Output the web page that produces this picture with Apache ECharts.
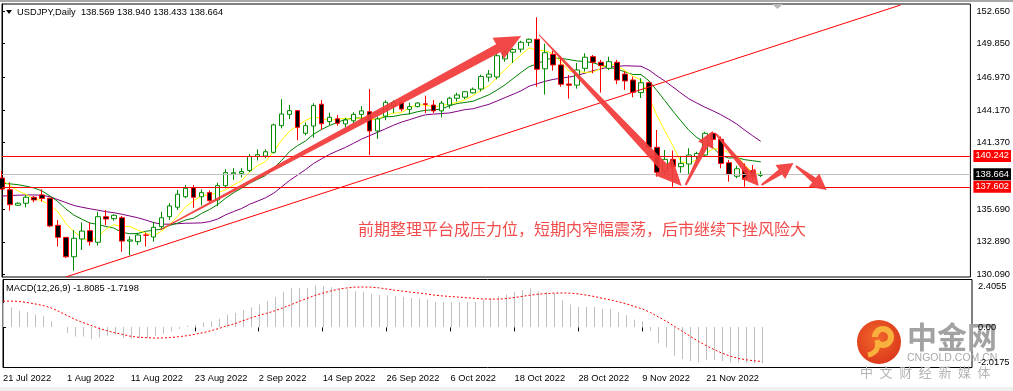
<!DOCTYPE html>
<html><head><meta charset="utf-8">
<script src="https://cdn.jsdelivr.net/npm/echarts@6/dist/echarts.min.js"></script>
<style>html,body{margin:0;padding:0;background:#fff}#c{width:1013px;height:391px}</style>
</head><body><div id="c"></div>
<script>
const dates = ['2022-07-20','2022-07-21','2022-07-22','2022-07-25','2022-07-26','2022-07-27','2022-07-28','2022-07-29',
'2022-08-01','2022-08-02','2022-08-03','2022-08-04','2022-08-05','2022-08-08','2022-08-09','2022-08-10','2022-08-11','2022-08-12','2022-08-15','2022-08-16','2022-08-17','2022-08-18','2022-08-19','2022-08-22','2022-08-23','2022-08-24','2022-08-25','2022-08-26','2022-08-29','2022-08-30','2022-08-31',
'2022-09-01','2022-09-02','2022-09-05','2022-09-06','2022-09-07','2022-09-08','2022-09-09','2022-09-12','2022-09-13','2022-09-14','2022-09-15','2022-09-16','2022-09-19','2022-09-20','2022-09-21','2022-09-22','2022-09-23','2022-09-26','2022-09-27','2022-09-28','2022-09-29','2022-09-30',
'2022-10-03','2022-10-04','2022-10-05','2022-10-06','2022-10-07','2022-10-10','2022-10-11','2022-10-12','2022-10-13','2022-10-14','2022-10-17','2022-10-18','2022-10-19','2022-10-20','2022-10-21','2022-10-24','2022-10-25','2022-10-26','2022-10-27','2022-10-28','2022-10-31',
'2022-11-01','2022-11-02','2022-11-03','2022-11-04','2022-11-07','2022-11-08','2022-11-09','2022-11-10','2022-11-11','2022-11-14','2022-11-15','2022-11-16','2022-11-17','2022-11-18','2022-11-21','2022-11-22','2022-11-23','2022-11-24','2022-11-25','2022-11-28','2022-11-29','2022-11-30'];

const opens = [138.35,137.35,136.02,136.19,136.70,136.90,136.62,134.30,133.27,131.61,
133.13,133.84,132.85,135.04,134.87,134.95,132.95,132.90,133.47,133.30,
134.19,135.04,135.85,136.75,137.52,136.75,137.10,136.47,137.69,138.70,
138.75,139.00,140.20,140.23,140.55,142.83,143.80,144.12,142.18,142.80,
144.67,143.18,143.42,142.98,143.25,143.80,144.03,142.38,143.65,144.49,
144.83,144.23,144.46,144.70,144.60,144.10,144.60,145.18,145.27,145.64,
145.97,146.99,147.00,148.55,149.12,149.38,149.97,150.23,147.70,148.94,
148.03,146.40,146.30,147.74,148.74,148.26,147.74,148.26,147.25,146.74,
145.66,146.51,140.98,138.90,139.95,139.32,139.55,140.20,140.32,142.18,
141.66,139.66,138.50,139.10,138.97,138.569];
const highs = [138.95,137.98,136.27,136.90,136.81,137.39,136.66,134.76,133.30,133.90,
134.54,134.54,135.47,135.61,135.25,135.10,133.35,133.67,133.67,134.60,
135.47,136.19,137.33,137.75,137.75,137.39,137.30,137.95,139.10,139.20,
139.20,140.40,140.80,140.80,143.00,145.10,144.60,144.17,143.10,144.75,
145.03,143.95,143.75,143.50,143.98,144.50,145.97,143.60,145.00,145.00,
144.94,144.80,144.85,145.40,145.03,144.95,145.30,145.65,145.80,146.10,
147.20,147.60,149.00,149.30,149.46,150.10,150.30,152.11,149.85,149.25,
148.74,147.17,148.20,149.03,148.88,148.46,148.74,148.46,147.50,147.03,
146.90,146.60,142.46,140.75,140.70,140.20,140.90,140.60,142.30,142.30,
141.90,139.89,139.40,139.60,139.46,138.940];
const lows = [137.33,135.55,135.95,135.84,136.27,136.32,134.16,132.48,131.50,130.42,
132.19,132.56,132.56,134.30,134.70,132.04,131.73,132.62,132.48,132.90,
133.90,134.76,135.61,136.62,135.80,136.00,136.32,135.95,137.47,138.20,
138.40,138.85,139.85,140.05,140.45,142.60,143.40,141.58,142.00,141.80,
142.46,142.89,142.83,142.70,143.04,143.40,140.32,141.70,143.30,143.90,
144.06,143.80,144.40,143.90,143.90,143.54,144.30,144.90,145.10,145.60,
145.76,146.60,146.80,148.30,148.20,149.10,149.65,146.17,145.50,147.54,
146.17,145.15,146.00,147.47,147.32,145.66,147.60,146.40,145.90,145.26,
145.20,140.90,138.46,138.55,137.60,138.80,138.70,139.90,140.20,141.30,
139.18,138.04,138.33,137.60,138.18,138.433];
const closes = [137.41,136.07,136.19,136.70,136.47,136.60,134.24,133.27,131.61,133.19,
133.81,132.90,135.04,134.84,135.16,132.95,133.05,133.47,133.45,134.13,
134.95,135.96,136.96,137.47,136.70,137.10,136.41,137.70,138.81,138.80,
138.90,140.20,140.35,140.60,142.90,143.83,144.12,142.69,142.83,144.55,
143.00,143.55,143.04,143.32,143.80,144.10,142.38,143.41,144.83,144.83,
144.25,144.46,144.77,144.66,144.10,144.76,145.18,145.46,145.74,145.95,
147.03,147.24,148.82,149.12,149.35,149.97,150.23,147.66,149.08,148.03,
146.38,146.30,147.60,148.69,148.26,147.97,148.31,146.74,146.66,145.69,
146.51,140.98,138.84,139.95,139.32,139.60,140.32,140.45,142.18,141.66,
139.60,138.67,139.14,138.24,138.46,138.664];

const maYellow = [138.20,137.70,137.25,136.95,136.57,136.41,136.04,135.46,134.44,133.78,
133.22,132.96,133.31,133.96,134.35,134.18,134.21,133.89,133.62,133.41,
133.81,134.39,135.09,135.89,136.41,136.84,136.93,137.08,137.34,137.76,
138.12,138.88,139.41,139.77,140.59,141.58,142.36,142.83,143.27,143.60,
143.44,143.30,143.37,143.47,143.34,143.56,143.33,143.40,143.70,143.91,
143.94,144.36,144.63,144.59,144.45,144.55,144.69,144.83,145.05,145.42,
145.87,146.28,146.96,147.63,148.31,148.90,149.50,149.27,149.26,148.99,
148.28,147.49,147.48,147.39,147.43,147.74,148.16,147.97,147.56,147.06,
146.76,145.28,143.71,142.38,141.11,139.74,139.61,139.93,140.37,140.84,
140.84,140.51,140.25,139.46,138.82,138.63];
const maGreen = [137.90,137.85,137.78,137.65,137.50,137.25,136.82,136.33,135.70,135.18,
134.82,134.50,134.38,134.20,134.07,133.70,133.58,133.60,133.79,133.88,
133.99,134.30,134.49,134.76,134.91,135.32,135.66,136.08,136.62,137.09,
137.48,137.91,138.24,138.56,139.18,139.85,140.62,141.12,141.52,142.10,
142.50,142.84,143.11,143.38,143.47,143.50,143.32,143.39,143.59,143.62,
143.76,143.84,144.02,144.15,144.18,144.25,144.53,144.73,144.82,144.93,
145.21,145.49,145.89,146.34,146.87,147.39,147.89,148.11,148.45,148.65,
148.59,148.49,148.37,148.33,148.22,148.01,147.83,147.68,147.44,147.21,
147.21,146.68,145.84,144.97,144.08,143.25,142.44,141.82,141.38,140.98,
140.29,140.06,140.09,139.92,139.83,139.74];
const maPurple = [136.80,136.85,136.88,136.90,136.90,136.88,136.75,136.50,136.25,136.00,
135.85,135.72,135.60,135.47,135.38,135.25,135.10,134.95,134.75,134.53,
134.40,134.40,134.44,134.48,134.49,134.51,134.62,134.84,135.20,135.48,
135.74,136.10,136.37,136.66,137.04,137.59,138.14,138.60,139.07,139.59,
139.99,140.37,140.68,140.97,141.32,141.67,141.97,142.26,142.56,142.86,
143.13,143.34,143.56,143.76,143.82,143.87,143.92,144.06,144.21,144.28,
144.48,144.67,144.95,145.24,145.52,145.82,146.21,146.42,146.63,146.79,
146.90,146.99,147.13,147.33,147.54,147.69,147.85,147.91,147.96,147.94,
147.92,147.60,147.10,146.65,146.14,145.63,145.13,144.77,144.42,144.11,
143.77,143.39,142.97,142.45,141.96,141.49];

const macdMain = [1.23,1.01,0.84,0.78,0.64,0.56,0.30,0.02,-0.29,-0.46,
-0.46,-0.59,-0.51,-0.42,-0.37,-0.54,-0.57,-0.54,-0.54,-0.42,
-0.32,-0.20,-0.08,0.08,0.13,0.25,0.30,0.44,0.64,0.73,
0.86,1.01,1.15,1.32,1.52,1.79,1.99,1.99,1.99,2.11,
2.08,2.02,1.96,1.91,1.82,1.79,1.69,1.62,1.60,1.57,
1.54,1.48,1.45,1.40,1.28,1.27,1.27,1.27,1.27,1.27,
1.40,1.48,1.57,1.65,1.79,1.87,1.96,1.82,1.79,1.69,
1.37,1.15,1.03,1.03,1.03,0.93,0.93,0.76,0.61,0.39,
0.30,-0.17,-0.79,-1.01,-1.43,-1.60,-1.69,-1.75,-1.64,-1.64,
-1.69,-1.76,-1.77,-1.80,-1.81,-1.8085];
const macdSignal = [1.32,1.32,1.30,1.25,1.18,1.10,0.98,0.80,0.60,0.40,
0.24,0.10,-0.05,-0.17,-0.27,-0.36,-0.45,-0.50,-0.52,-0.54,
-0.53,-0.51,-0.47,-0.42,-0.35,-0.27,-0.17,-0.06,0.08,0.18,
0.33,0.47,0.60,0.71,0.83,0.98,1.13,1.30,1.45,1.60,
1.72,1.83,1.92,1.98,2.02,2.03,2.02,1.99,1.93,1.87,
1.82,1.77,1.73,1.68,1.62,1.58,1.55,1.52,1.49,1.46,
1.43,1.42,1.42,1.45,1.50,1.56,1.62,1.67,1.70,1.72,
1.73,1.72,1.68,1.62,1.55,1.46,1.38,1.29,1.18,1.05,
0.93,0.75,0.53,0.30,0.06,-0.20,-0.45,-0.70,-0.92,-1.12,
-1.30,-1.45,-1.56,-1.63,-1.68,-1.7198];

const priceTicks = [152.65,149.85,146.97,144.17,141.37,135.69,132.89,130.09];
const macdTicks = [2.4055,0,-2.0175];
const dateTickIndex = [0,8,16,24,32,40,48,56,64,72,80,88];
const dateTickLabels = ['21 Jul 2022','1 Aug 2022','11 Aug 2022','23 Aug 2022','2 Sep 2022','14 Sep 2022','26 Sep 2022','6 Oct 2022','18 Oct 2022','28 Oct 2022','9 Nov 2022','21 Nov 2022'];
const levels = [140.242,137.602];
const bid = 138.664;
const trendLine = [[8,129.88],[112.5,153.16]];
const arrows = [[19.75,133.90,65.0,150.51],[67.25,150.60,85.1,137.67],[85.6,137.75,89.0,142.38],[89.4,142.12,94.75,137.67],[95.1,137.75,99.1,139.64],[99.4,139.38,103.25,137.33]];
const titleText = 'USDJPY,Daily  138.569 138.940 138.433 138.664';
const macdTitle = 'MACD(12,26,9) -1.8085 -1.7198';
const note = '前期整理平台成压力位，短期内窄幅震荡，后市继续下挫风险大';
const logoSub = '中文财经新媒体';

const FONT = 'Liberation Sans';
const FS = 9.3;
const chart = echarts.init(document.getElementById('c'), null, {renderer:'canvas'});

const candleData = dates.map((d,i)=>[i, opens[i], closes[i], lows[i], highs[i]]);
const toXY = arr => arr.map((v,i)=>[i,v]);

const markLineData = levels.map(v=>({yAxis:v, lineStyle:{color:'#ff0000'}, label:{backgroundColor:'#ff0000'}}))
  .concat([{yAxis:bid, lineStyle:{color:'#c0c0c0'}, label:{backgroundColor:'#000000'}}]);

function arrowItem(params, api){
  const a = api.coord([api.value(0), api.value(1)]);
  const b = api.coord([api.value(2), api.value(3)]);
  const dx=b[0]-a[0], dy=b[1]-a[1], L=Math.hypot(dx,dy);
  const ux=dx/L, uy=dy/L, nx=-uy, ny=ux;
  const big = L>150;
  const hl = big?26:16, hw = big?24:17, sw = big?9:6, tw = big?1:2;
  const bx=b[0]-ux*hl, by=b[1]-uy*hl;
  const pts=[[a[0]+nx*tw/2,a[1]+ny*tw/2],[bx+nx*sw/2,by+ny*sw/2],[bx+nx*hw/2,by+ny*hw/2],[b[0],b[1]],
             [bx-nx*hw/2,by-ny*hw/2],[bx-nx*sw/2,by-ny*sw/2],[a[0]-nx*tw/2,a[1]-ny*tw/2]];
  return {type:'polygon', shape:{points:pts}, style:{fill:'rgba(242,58,58,0.93)'}};
}
function histItem(params, api){
  const p0 = api.coord([api.value(0), 0]);
  const p1 = api.coord([api.value(0), api.value(1)]);
  const x = Math.round(p0[0])+0.5;
  return {type:'line', shape:{x1:x,y1:Math.round(p0[1]),x2:x,y2:p1[1]}, style:{stroke:'#c0c0c0', lineWidth:1}};
}

const logoChildren = [
  {type:'circle', shape:{cx:879,cy:342,r:22}, style:{fill:new echarts.graphic.RadialGradient(0.45,0.4,0.7,[{offset:0,color:'#f2682a'},{offset:1,color:'#d8321a'}])}},
  {type:'arc', shape:{cx:883,cy:337,r:8,startAngle:-Math.PI*1.0,endAngle:Math.PI*0.75}, style:{stroke:'#f8b13c',lineWidth:6,fill:null}},
  {type:'bezierCurve', shape:{x1:877,y1:340,cpx1:880,cpy1:352,x2:868,y2:355}, style:{stroke:'#f8b13c',lineWidth:5,fill:null}},
  {type:'text', x:907, y:337, style:{text:'中金网', font:'bold 30px "Noto Sans CJK SC"', fill:'#a2a2a2', verticalAlign:'middle'}},
  {type:'text', x:907, y:358.5, style:{text:'CNGOLD.COM.CN', font:'10.5px "Liberation Sans"', fill:'#a8a8a8', verticalAlign:'middle'}}
];
logoSub.split('').forEach((ch,i)=>{
  logoChildren.push({type:'text', x:860+i*19.6, y:372, style:{text:ch, font:'13px "Noto Sans CJK SC"', fill:'#b4b4b4', verticalAlign:'middle'}});
});

const option = {
  animation:false,
  backgroundColor:'#ffffff',
  grid:[
    {left:2, top:4, width:970, height:273, show:true, borderColor:'#000', borderWidth:1, backgroundColor:'#fff'},
    {left:2, top:279.5, width:970, height:88, show:true, borderColor:'#000', borderWidth:1, backgroundColor:'#fff'}
  ],
  xAxis:[
    {type:'value', gridIndex:0, min:0, max:121.25, show:false},
    {type:'value', gridIndex:1, min:0, max:121.25,
      axisLine:{show:false}, splitLine:{show:false},
      axisTick:{show:true, length:4, lineStyle:{color:'#000'}, customValues:dateTickIndex},
      axisLabel:{customValues:dateTickIndex, align:'left', margin:6, fontSize:FS, fontFamily:FONT, color:'#000',
        formatter:v=>dateTickLabels[dateTickIndex.indexOf(v)]}}
  ],
  yAxis:[
    {type:'value', gridIndex:0, position:'right', min:129.876, max:153.249, scale:true,
      axisLine:{show:true, lineStyle:{color:'#000'}}, splitLine:{show:false},
      axisTick:{show:true, length:3, lineStyle:{color:'#000'}, customValues:priceTicks},
      axisLabel:{customValues:priceTicks, margin:6, fontSize:FS, fontFamily:FONT, color:'#000', formatter:v=>v.toFixed(3)}},
    {type:'value', gridIndex:1, position:'right', min:-2.0175, max:2.4055,
      axisLine:{show:true, lineStyle:{color:'#000'}}, splitLine:{show:false},
      axisTick:{show:true, length:3, lineStyle:{color:'#000'}, customValues:macdTicks},
      axisLabel:{customValues:macdTicks, margin:6, color:'#000',
        formatter:v=> v>0 ? '{t|'+v.toFixed(4)+'}' : (v<0 ? '{b|'+v.toFixed(4)+'}' : '{m|0.00}'),
        rich:{t:{fontSize:FS,fontFamily:FONT,color:'#000',padding:[14,0,0,0]},
              b:{fontSize:FS,fontFamily:FONT,color:'#000',padding:[0,0,11,0]},
              m:{fontSize:FS,fontFamily:FONT,color:'#000'}}}}
  ],
  series:[
    {type:'line', xAxisIndex:0, yAxisIndex:0, data:toXY(maPurple), showSymbol:false, lineStyle:{color:'#800080',width:1}, z:3},
    {type:'line', xAxisIndex:0, yAxisIndex:0, data:toXY(maGreen), showSymbol:false, lineStyle:{color:'#008000',width:1}, z:3},
    {type:'line', xAxisIndex:0, yAxisIndex:0, data:toXY(maYellow), showSymbol:false, lineStyle:{color:'#ffff00',width:1}, z:3},
    {type:'candlestick', xAxisIndex:0, yAxisIndex:0, data:candleData, barWidth:5,
      encode:{x:0, y:[1,2,3,4]}, z:4,
      itemStyle:{color:'#ffffff', color0:'#000000', borderColor:'#008c00', borderColor0:'#ff0000', borderWidth:1},
      markLine:{silent:true, symbol:['none','none'], animation:false, precision:3, data:markLineData,
        lineStyle:{type:'solid', width:1},
        label:{position:'end', distance:3, formatter:p=>Number(p.value).toFixed(3), color:'#fff', fontSize:FS, fontFamily:FONT, padding:[2,2,1,2]}}},
    {type:'line', xAxisIndex:0, yAxisIndex:0, data:trendLine, showSymbol:false, lineStyle:{color:'#ff0000',width:1}, z:5},
    {type:'custom', xAxisIndex:0, yAxisIndex:0, data:arrows, encode:{x:[0,2], y:[1,3]}, renderItem:arrowItem, clip:false, z:6},
    {type:'custom', xAxisIndex:1, yAxisIndex:1, data:toXY(macdMain), encode:{x:0,y:1}, renderItem:histItem, z:3},
    {type:'line', xAxisIndex:1, yAxisIndex:1, data:toXY(macdSignal), showSymbol:false, lineStyle:{color:'#ff0000',width:1,type:[2,2]}, z:4}
  ],
  graphic:[
    {type:'rect', shape:{x:0,y:0,width:1013,height:2}, style:{fill:'#a8a8a8'}, z:50},
    {type:'rect', shape:{x:0,y:387,width:1013,height:4}, style:{fill:'#efefef'}, z:50},
    {type:'polygon', shape:{points:[[6,10],[12,10],[9,14]]}, style:{fill:'#000'}, z:50},
    {type:'text', x:17, y:12, style:{text:titleText, font:FS+'px "'+FONT+'"', fill:'#000', verticalAlign:'middle'}, z:50},
    {type:'text', x:6, y:288, style:{text:macdTitle, font:FS+'px "'+FONT+'"', fill:'#000', verticalAlign:'middle'}, z:50},
    {type:'polygon', shape:{points:[[772,4],[783,4],[777.5,9]]}, style:{fill:'#b8b8b8'}, z:50},
    {type:'text', x:358, y:229, style:{text:note, font:'16px "Noto Sans CJK SC"', fill:'#f24c4c', verticalAlign:'middle'}, z:50},
    {type:'group', z:100, children:logoChildren}
  ]
};
chart.setOption(option);
</script>
</body></html>
